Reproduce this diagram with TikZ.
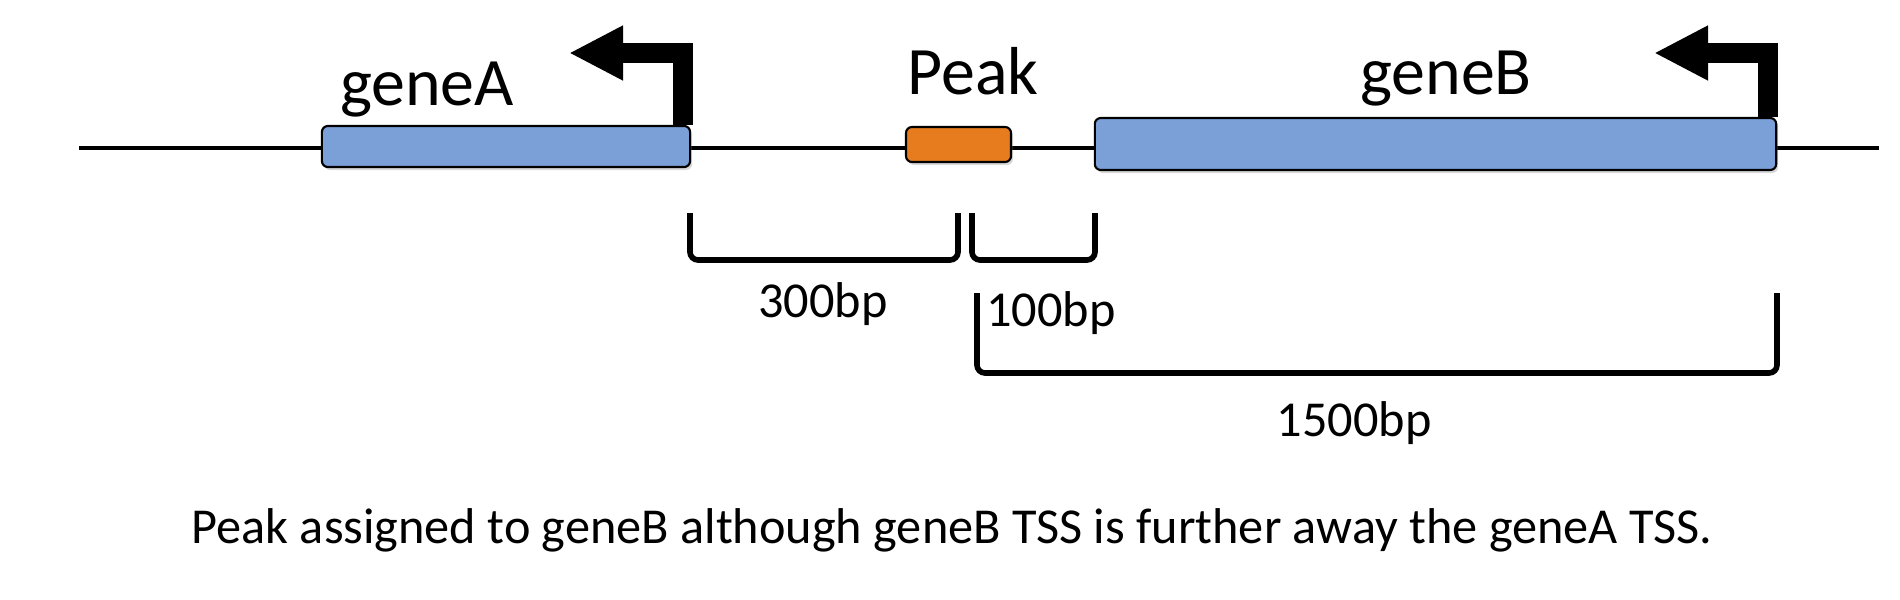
\documentclass[tikz,border=0pt]{standalone}
\usepackage{fontspec}
\setmainfont{Carlito}
\usepackage{tikz}
\usetikzlibrary{arrows.meta,shadows}
\definecolor{geneBlue}{HTML}{7BA0D8}
\definecolor{peakOrange}{HTML}{E67C1E}

\begin{document}
\begin{tikzpicture}[x=0.01cm,y=-0.01cm,
    featbox/.style={draw=black,line width=0.6pt,rounded corners=0.06cm,inner sep=0pt,
      drop shadow={shadow xshift=0.02cm,shadow yshift=-0.03cm,opacity=0.3}},
    biglabel/.style={anchor=base,inner sep=0pt,font=\fontsize{19.3}{23}\selectfont},
    smalllabel/.style={anchor=base,inner sep=0pt,font=\fontsize{14.3}{17}\selectfont},
    tss/.style={line width=0.2cm,-{Triangle[length=0.54cm,width=0.51cm]}},
    span/.style={line width=1.6pt,rounded corners=0.08cm}]
  \useasboundingbox (0,0) rectangle (1900,600);

  % chromosome
  \draw[line width=1.3pt] (79,148) -- (1879,148);

  % genes and peak
  \node[featbox,fill=geneBlue,minimum width=3.68cm,minimum height=0.41cm]
    (geneA) at (506,146.5) {};
  \node[featbox,fill=peakOrange,minimum width=1.05cm,minimum height=0.35cm]
    (peak) at (958.5,144.5) {};
  \node[featbox,fill=geneBlue,minimum width=6.81cm,minimum height=0.52cm]
    (geneB) at (1435.5,144) {};

  % TSS arrows
  \draw[tss] ([xshift=-0.08cm]geneA.north east) |- (569,53);
  \draw[tss] ([xshift=-0.09cm]geneB.north east) |- (1654,53);

  \node[biglabel] (labelA) at (427,105) {geneA};
  \node[biglabel] (labelPeak) at (973,94) {Peak};
  \node[biglabel] (labelB) at (1446,94) {geneB};

  % distances
  \draw[span] (690,213) -- (690,260) -- (958,260) -- (958,213);
  \draw[span] (972,213) -- (972,260) -- (1095,260) -- (1095,213);
  \draw[span] (977,293) -- (977,373) -- (1777,373) -- (1777,293);
  \node[smalllabel] (d300) at (823,317) {300bp};
  \node[smalllabel] (d100) at (1051,326) {100bp};
  \node[smalllabel] (d1500) at (1354,436) {1500bp};

  \node[smalllabel] (caption) at (952,543)
    {Peak assigned to geneB although geneB TSS is further away the geneA TSS.};
\end{tikzpicture}
\end{document}
